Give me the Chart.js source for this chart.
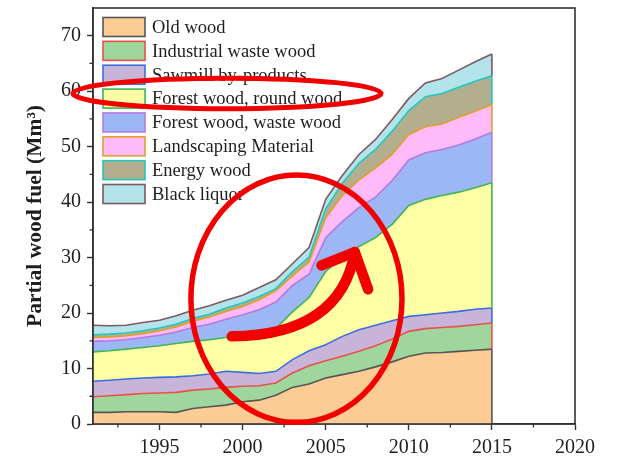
<!DOCTYPE html>
<html>
<head>
<meta charset="utf-8">
<script src="https://cdn.jsdelivr.net/npm/chart.js@4.4.1/dist/chart.umd.min.js"></script>
<style>
  html, body { margin: 0; padding: 0; background: #fff; }
  #wrap { width: 618px; height: 457px; }
</style>
</head>
<body>
<div id="wrap"><canvas id="c" width="618" height="457"></canvas></div>
<script>
// Wood fuel use by assortment, million m³ per year
const years = [1991,1992,1993,1994,1995,1996,1997,1998,1999,2000,2001,2002,2003,2004,2005,2006,2007,2008,2009,2010,2011,2012,2013,2014,2015];
const oldWood        = [2.1,2.1,2.2,2.2,2.2,2.1,2.8,3.1,3.4,4.0,4.3,5.2,6.6,7.2,8.3,8.9,9.5,10.3,11.2,12.2,12.8,12.9,13.1,13.3,13.5];
const industrialWaste= [2.8,3.0,3.1,3.3,3.4,3.6,3.3,3.2,3.2,2.8,2.6,2.2,2.6,3.3,3.1,3.3,3.6,3.8,4.1,4.5,4.4,4.5,4.5,4.6,4.7];
const sawmillByProducts = [2.8,2.8,2.8,2.8,2.8,2.8,2.6,2.7,2.9,2.5,2.2,2.1,2.4,2.7,2.9,3.6,3.9,3.7,3.3,2.7,2.5,2.6,2.7,2.8,2.7];
const forestRoundWood= [5.3,5.3,5.4,5.5,5.7,6.0,6.2,6.2,6.1,6.7,7.5,7.7,8.6,9.6,13.2,14.2,15.0,15.8,17.4,20.0,20.8,21.2,21.5,21.9,22.6];
const forestWasteWood= [1.9,1.8,1.7,1.8,1.9,2.1,2.5,2.8,3.3,3.7,4.0,4.8,4.8,4.2,6.1,6.5,7.0,7.3,7.9,8.2,8.4,8.3,8.5,8.8,9.1];
const landscaping    = [0.7,0.7,0.7,0.7,0.8,0.9,1.1,1.3,1.4,1.5,1.8,2.0,1.7,2.2,3.6,4.7,5.0,5.3,4.7,4.6,4.7,4.6,5.0,5.0,5.0];
const energyWood     = [0.5,0.5,0.5,0.5,0.5,0.5,0.5,0.5,0.6,0.6,0.6,0.4,0.8,0.9,1.6,2.2,3.0,3.3,4.2,4.3,5.4,5.5,5.4,5.4,5.2];
const blackLiquor    = [1.7,1.5,1.4,1.5,1.4,1.5,1.5,1.5,1.4,1.4,1.6,1.6,1.4,1.7,1.7,1.4,1.6,1.8,2.1,2.2,2.5,2.7,3.1,3.5,3.9];

const seriesNames = ["Old wood","Industrial waste wood","Sawmill by-products","Forest wood, round wood",
                     "Forest wood, waste wood","Landscaping Material","Energy wood","Black liquor"];
const seriesValues = [oldWood, industrialWaste, sawmillByProducts, forestRoundWood,
                      forestWasteWood, landscaping, energyWood, blackLiquor];

const xTickValues = [1995, 2000, 2005, 2010, 2015, 2020];
const yTickValues = [0, 10, 20, 30, 40, 50, 60, 70];
const xMinorTicks = [1992.5, 1997.5, 2002.5, 2007.5, 2012.5, 2017.5];
const yMinorTicks = [5, 15, 25, 35, 45, 55, 65];

// area fills and outline colours, one per series
const fillColors = ["#fdcb94","#9fd69d","#c8b3d9","#ffffa6","#9db7f4","#ffbaf9","#b3af8e","#b3e4eb"];
const lineColors = ["#555555","#e8504a","#3a6ee0","#3db55a","#b27ae0","#dfa02a","#22c7c0","#7b5a60"];

const SERIF = "'Liberation Serif', 'Times New Roman', serif";
const INK = "#1e1e1e";

const datasets = seriesValues.map((vals, i) => ({
  label: seriesNames[i],
  data: years.map((yr, k) => ({ x: yr, y: vals[k] })),
  backgroundColor: fillColors[i],
  borderColor: lineColors[i],
  borderWidth: 1.6,
  pointRadius: 0,
  tension: 0,
  fill: i === 0 ? 'origin' : '-1'
}));

// Outlines, frame, minor ticks, inset legend and the red highlight marks
const overlay = {
  id: 'overlay',
  afterDraw(chart) {
    const ctx = chart.ctx;
    const xs = chart.scales.x, ys = chart.scales.y;
    const a = chart.chartArea;

    // closing vertical edge of every layer at the last year
    ctx.save();
    ctx.lineWidth = 1.6;
    let prevY = ys.getPixelForValue(0);
    chart.data.datasets.forEach((ds, i) => {
      const meta = chart.getDatasetMeta(i);
      const pt = meta.data[meta.data.length - 1];
      ctx.strokeStyle = lineColors[i];
      ctx.beginPath();
      ctx.moveTo(pt.x, prevY);
      ctx.lineTo(pt.x, pt.y);
      ctx.stroke();
      prevY = pt.y;
    });
    ctx.restore();

    // plot frame
    ctx.save();
    ctx.strokeStyle = "#333";
    ctx.lineWidth = 1.6;
    ctx.strokeRect(a.left, a.top, a.right - a.left, a.bottom - a.top);

    // minor ticks
    ctx.lineWidth = 1.3;
    ctx.beginPath();
    xMinorTicks.forEach(v => {
      const px = xs.getPixelForValue(v);
      ctx.moveTo(px, a.bottom);
      ctx.lineTo(px, a.bottom + 3.5);
    });
    yMinorTicks.forEach(v => {
      const py = ys.getPixelForValue(v);
      ctx.moveTo(a.left, py);
      ctx.lineTo(a.left - 3.5, py);
    });
    ctx.stroke();
    ctx.restore();

    // legend inside the plot
    ctx.save();
    const lx = a.left + 10, ly0 = a.top + 19, step = 23.86;
    const bw = 42, bh = 19;
    ctx.font = "18.5px " + SERIF;
    ctx.textBaseline = 'middle';
    seriesNames.forEach((name, i) => {
      const cy = ly0 + i * step;
      ctx.fillStyle = fillColors[i];
      ctx.fillRect(lx, cy - bh / 2, bw, bh);
      ctx.strokeStyle = lineColors[i];
      ctx.lineWidth = 1.6;
      ctx.strokeRect(lx, cy - bh / 2, bw, bh);
      ctx.fillStyle = INK;
      ctx.fillText(name, lx + bw + 7, cy + 1);
    });
    ctx.restore();

    // red highlight marks, placed in data units
    const P = (x, y) => [xs.getPixelForValue(x), ys.getPixelForValue(y)];
    ctx.save();
    ctx.strokeStyle = "#f20000";
    ctx.lineCap = 'round';
    ctx.lineJoin = 'round';

    // ring around the round-wood legend entry
    const [c1x, c1y] = P(1999.06, 59.6);
    const r1x = xs.getPixelForValue(1999.06 + 9.27) - c1x;
    const r1y = c1y - ys.getPixelForValue(59.6 + 2.75);
    ctx.lineWidth = 5;
    ctx.beginPath();
    ctx.ellipse(c1x, c1y, r1x, r1y, 0, 0, Math.PI * 2);
    ctx.stroke();

    // large ring around the take-off years
    const [c2x, c2y] = P(2003.24, 22.6);
    const r2x = xs.getPixelForValue(2003.24 + 6.35) - c2x;
    const r2y = c2y - ys.getPixelForValue(22.6 + 22.3);
    ctx.lineWidth = 5.5;
    ctx.beginPath();
    ctx.ellipse(c2x, c2y, r2x, r2y, 0, 0, Math.PI * 2);
    ctx.stroke();

    // curved arrow
    const [s0x, s0y] = P(1999.35, 15.8);
    const [kx, ky] = P(2005.9, 16.1);
    const [tx, ty] = P(2006.75, 31.0);
    const [h1x, h1y] = P(2004.75, 28.6);
    const [h2x, h2y] = P(2007.55, 24.3);
    ctx.lineWidth = 10.5;
    ctx.beginPath();
    ctx.moveTo(s0x, s0y);
    ctx.quadraticCurveTo(kx, ky, tx, ty);
    ctx.stroke();
    ctx.beginPath();
    ctx.moveTo(h1x, h1y);
    ctx.lineTo(tx, ty);
    ctx.lineTo(h2x, h2y);
    ctx.stroke();
    ctx.restore();
  }
};

new Chart(document.getElementById('c'), {
  type: 'line',
  data: { datasets },
  plugins: [overlay],
  options: {
    responsive: false,
    devicePixelRatio: 1,
    animation: false,
    events: [],
    layout: { padding: { left: 0, right: 43, top: 8, bottom: 0 } },
    plugins: { legend: { display: false }, tooltip: { enabled: false }, title: { display: false } },
    scales: {
      x: {
        type: 'linear',
        min: 1991,
        max: 2020,
        afterBuildTicks: s => { s.ticks = xTickValues.map(v => ({ value: v })); },
        afterFit: s => { s.height = 33; s.paddingLeft = 0; s.paddingRight = 0; },
        ticks: {
          callback: v => String(v),
          color: INK,
          font: { family: SERIF, size: 20 },
          padding: 6,
          maxRotation: 0,
          autoSkip: false
        },
        grid: { drawOnChartArea: false, drawTicks: true, tickLength: 6, tickWidth: 1.4, tickColor: '#333' },
        border: { display: true, color: '#333', width: 1.6 }
      },
      y: {
        stacked: true,
        min: 0,
        max: 75,
        afterBuildTicks: s => { s.ticks = yTickValues.map(v => ({ value: v })); },
        afterFit: s => { s.width = 93; s.paddingTop = 0; s.paddingBottom = 0; },
        ticks: {
          color: INK,
          font: { family: SERIF, size: 20 },
          padding: 6
        },
        grid: { drawOnChartArea: false, drawTicks: true, tickLength: 6, tickWidth: 1.4, tickColor: '#333' },
        border: { display: true, color: '#333', width: 1.6 },
        title: {
          display: true,
          text: 'Partial wood fuel (Mm³)',
          color: INK,
          font: { family: SERIF, size: 21.5, weight: 'bold' },
          padding: { top: 23, bottom: 0 }
        }
      }
    }
  }
});
</script>
</body>
</html>
